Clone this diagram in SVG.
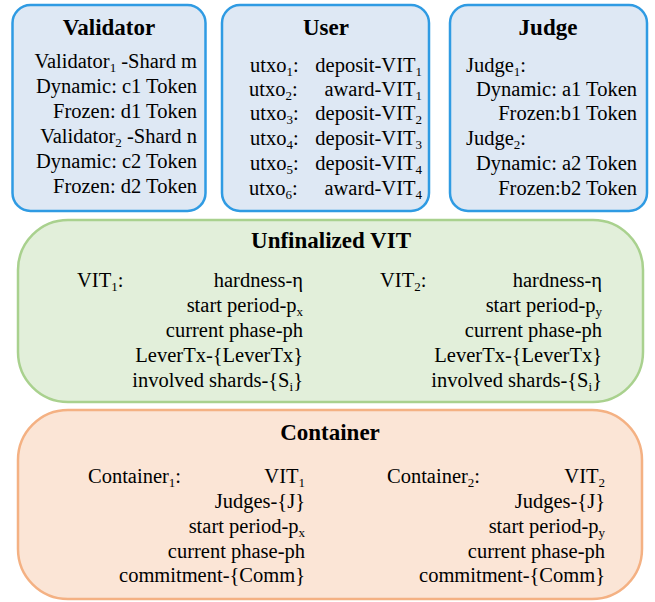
<svg xmlns="http://www.w3.org/2000/svg" width="655" height="602" viewBox="0 0 655 602" font-family="'Liberation Serif', 'DejaVu Serif', serif">
<style>
text{font-family:'Liberation Serif','DejaVu Serif',serif;fill:#000;}
.t{font-size:23px;font-weight:bold;text-anchor:middle;}
.b{font-size:20.5px;}
.e{text-anchor:end;}
.s{font-size:13px;}
.blue{fill:#dee8f4;stroke:#2f9be3;stroke-width:2.5;}
.green{fill:#e2efda;stroke:#a9d18e;stroke-width:2.5;}
.orange{fill:#fbe5d6;stroke:#f4b183;stroke-width:2.5;}
</style>
<rect width="655" height="602" fill="#fff"/>
<g id="validator">
<rect class="blue" x="12.5" y="5" width="193" height="206" rx="18"/>
<text class="t" x="109" y="35">Validator</text>
<text class="b e" x="197" y="68">Validator<tspan class="s" dy="4">1</tspan><tspan dy="-4"> -Shard m</tspan></text>
<text class="b e" x="197" y="93">Dynamic: c1 Token</text>
<text class="b e" x="197" y="118">Frozen: d1 Token</text>
<text class="b e" x="197" y="143">Validator<tspan class="s" dy="4">2</tspan><tspan dy="-4"> -Shard n</tspan></text>
<text class="b e" x="197" y="168">Dynamic: c2 Token</text>
<text class="b e" x="197" y="193">Frozen: d2 Token</text>
</g>
<g id="user">
<rect class="blue" x="222" y="5" width="207" height="206" rx="18"/>
<text class="t" x="326" y="35">User</text>
<text class="b" x="250" y="72">utxo<tspan class="s" dy="4">1</tspan><tspan dy="-4">:</tspan></text>
<text class="b e" x="422" y="72">deposit-VIT<tspan class="s" dy="4">1</tspan></text>
<text class="b" x="249" y="96">utxo<tspan class="s" dy="4">2</tspan><tspan dy="-4">:</tspan></text>
<text class="b e" x="422" y="96">award-VIT<tspan class="s" dy="4">1</tspan></text>
<text class="b" x="250" y="120">utxo<tspan class="s" dy="4">3</tspan><tspan dy="-4">:</tspan></text>
<text class="b e" x="422" y="120">deposit-VIT<tspan class="s" dy="4">2</tspan></text>
<text class="b" x="250" y="145">utxo<tspan class="s" dy="4">4</tspan><tspan dy="-4">:</tspan></text>
<text class="b e" x="422" y="145">deposit-VIT<tspan class="s" dy="4">3</tspan></text>
<text class="b" x="250" y="170">utxo<tspan class="s" dy="4">5</tspan><tspan dy="-4">:</tspan></text>
<text class="b e" x="422" y="170">deposit-VIT<tspan class="s" dy="4">4</tspan></text>
<text class="b" x="249" y="195">utxo<tspan class="s" dy="4">6</tspan><tspan dy="-4">:</tspan></text>
<text class="b e" x="422" y="195">award-VIT<tspan class="s" dy="4">4</tspan></text>
</g>
<g id="judge">
<rect class="blue" x="450" y="5" width="197" height="206" rx="18"/>
<text class="t" x="548" y="35">Judge</text>
<text class="b" x="466" y="72">Judge<tspan class="s" dy="4">1</tspan><tspan dy="-4">:</tspan></text>
<text class="b e" x="637" y="96">Dynamic: a1 Token</text>
<text class="b e" x="637" y="120">Frozen:b1 Token</text>
<text class="b" x="466" y="145">Judge<tspan class="s" dy="4">2</tspan><tspan dy="-4">:</tspan></text>
<text class="b e" x="637" y="170">Dynamic: a2 Token</text>
<text class="b e" x="637" y="195">Frozen:b2 Token</text>
</g>
<g id="unfinalized-vit">
<rect class="green" x="18" y="220" width="625" height="182" rx="50"/>
<text class="t" x="331" y="248">Unfinalized VIT</text>
<text class="b" x="77" y="287">VIT<tspan class="s" dy="4">1</tspan><tspan dy="-4">:</tspan></text>
<text class="b e" x="303" y="287">hardness-η</text>
<text class="b e" x="303" y="312">start period-p<tspan class="s" dy="4">x</tspan></text>
<text class="b e" x="303" y="337">current phase-ph</text>
<text class="b e" x="303" y="362">LeverTx-{LeverTx}</text>
<text class="b e" x="303" y="387">involved shards-{S<tspan class="s" dy="4">i</tspan><tspan dy="-4">}</tspan></text>
<text class="b" x="380" y="287">VIT<tspan class="s" dy="4">2</tspan><tspan dy="-4">:</tspan></text>
<text class="b e" x="602" y="287">hardness-η</text>
<text class="b e" x="602" y="312">start period-p<tspan class="s" dy="4">y</tspan></text>
<text class="b e" x="602" y="337">current phase-ph</text>
<text class="b e" x="602" y="362">LeverTx-{LeverTx}</text>
<text class="b e" x="602" y="387">involved shards-{S<tspan class="s" dy="4">i</tspan><tspan dy="-4">}</tspan></text>
</g>
<g id="container">
<rect class="orange" x="18" y="410" width="624" height="189" rx="50"/>
<text class="t" x="330" y="440">Container</text>
<text class="b" x="88" y="483">Container<tspan class="s" dy="4">1</tspan><tspan dy="-4">:</tspan></text>
<text class="b e" x="305" y="483">VIT<tspan class="s" dy="4">1</tspan></text>
<text class="b e" x="305" y="508">Judges-{J}</text>
<text class="b e" x="305" y="533">start period-p<tspan class="s" dy="4">x</tspan></text>
<text class="b e" x="305" y="558">current phase-ph</text>
<text class="b e" x="305" y="582">commitment-{Comm}</text>
<text class="b" x="387" y="483">Container<tspan class="s" dy="4">2</tspan><tspan dy="-4">:</tspan></text>
<text class="b e" x="605" y="483">VIT<tspan class="s" dy="4">2</tspan></text>
<text class="b e" x="605" y="508">Judges-{J}</text>
<text class="b e" x="605" y="533">start period-p<tspan class="s" dy="4">y</tspan></text>
<text class="b e" x="605" y="558">current phase-ph</text>
<text class="b e" x="605" y="582">commitment-{Comm}</text>
</g>
<g id="connectors"></g>
</svg>
